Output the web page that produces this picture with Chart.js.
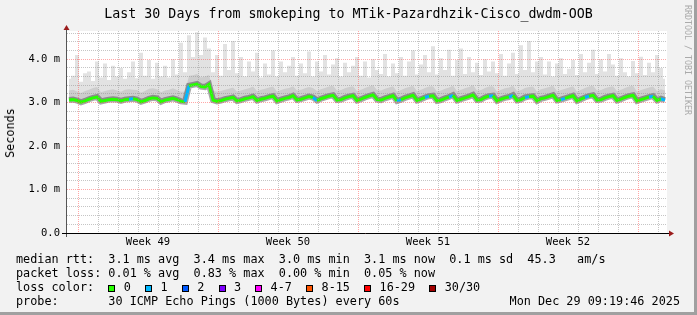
<!DOCTYPE html>
<html>
<head>
<meta charset="utf-8">
<script src="https://cdn.jsdelivr.net/npm/chart.js@4/dist/chart.umd.min.js"></script>
<style>
html, body { margin: 0; padding: 0; }
body { width: 697px; height: 315px; position: relative; overflow: hidden; background: #f2f2f2; font-family: 'DejaVu Sans Mono', monospace; color: #000; }
#c { position: absolute; left: 0; top: 0; }
.t { position: absolute; white-space: pre; }
#title { left: 0; top: 6px; width: 697px; text-align: center; font-size: 13.3px; line-height: 16px; }
#ylab { left: 10px; top: 133px; font-size: 11.8px; transform: translate(-50%, -50%) rotate(-90deg); }
#mark { left: 688px; top: 60px; font-size: 8.3px; color: #aaa; transform: translate(-50%, -50%) rotate(90deg); }
#legend { left: 16px; top: 252px; font-size: 11.8px; line-height: 14px; }
#date { right: 17px; top: 294px; font-size: 11.8px; line-height: 14px; }
.b { display: inline-block; width: 7px; height: 7px; box-sizing: border-box; border: 1px solid #000; margin-right: calc(1ch - 5.8px); vertical-align: -0.5px; }
#edgeR { position: absolute; left: 694px; top: 0; width: 3px; height: 315px; background: #a0a0a0; }
#edgeB { position: absolute; left: 0; top: 312px; width: 697px; height: 3px; background: #a0a0a0; }
</style>
</head>
<body>
<canvas id="c" width="697" height="315"></canvas>
<div class="t" id="title">Last 30 Days from smokeping to MTik-Pazardhzik-Cisco_dwdm-OOB</div>
<div class="t" id="ylab">Seconds</div>
<div class="t" id="mark">RRDTOOL / TOBI OETIKER</div>
<div class="t" id="legend"><div>median rtt:  3.1 ms avg  3.4 ms max  3.0 ms min  3.1 ms now  0.1 ms sd  45.3   am/s</div><div>packet loss: 0.01 % avg  0.83 % max  0.00 % min  0.05 % now</div><div id="lossrow">loss color:  </div><div>probe:       30 ICMP Echo Pings (1000 Bytes) every 60s</div></div>
<div class="t" id="date">Mon Dec 29 09:19:46 2025</div>
<div id="edgeR"></div>
<div id="edgeB"></div>
<script>
// median rtt (ms), one value every 4.8 hours over 30 days
const median = [
  3.06, 3.07, 3.05, 3.01, 3.04, 3.08, 3.11, 3.13, 3.03, 3.05,
  3.07, 3.08, 3.07, 3.04, 3.07, 3.08, 3.09, 3.07, 3.02, 3.05,
  3.09, 3.11, 3.10, 3.02, 3.06, 3.08, 3.10, 3.07, 3.03, 3.02,
  3.39, 3.41, 3.43, 3.37, 3.36, 3.42, 3.06, 3.03, 3.05, 3.08,
  3.10, 3.12, 3.04, 3.06, 3.09, 3.11, 3.14, 3.05, 3.08, 3.10,
  3.13, 3.15, 3.04, 3.07, 3.10, 3.12, 3.16, 3.06, 3.08, 3.11,
  3.14, 3.12, 3.05, 3.09, 3.12, 3.15, 3.17, 3.06, 3.07, 3.11,
  3.14, 3.16, 3.05, 3.08, 3.12, 3.15, 3.18, 3.07, 3.06, 3.10,
  3.13, 3.16, 3.04, 3.07, 3.11, 3.14, 3.17, 3.05, 3.08, 3.12,
  3.15, 3.16, 3.04, 3.06, 3.10, 3.13, 3.17, 3.05, 3.08, 3.11,
  3.14, 3.18, 3.06, 3.07, 3.12, 3.15, 3.16, 3.04, 3.08, 3.11,
  3.13, 3.17, 3.05, 3.07, 3.12, 3.14, 3.15, 3.04, 3.09, 3.11,
  3.14, 3.17, 3.05, 3.07, 3.10, 3.13, 3.16, 3.04, 3.08, 3.12,
  3.15, 3.17, 3.06, 3.07, 3.11, 3.14, 3.16, 3.05, 3.08, 3.12,
  3.15, 3.17, 3.04, 3.07, 3.10, 3.13, 3.15, 3.05, 3.09, 3.06
];

// upper edge of the dense part of the smoke
const smokeUpper = [
  3.28, 3.30, 3.26, 3.22, 3.27, 3.30, 3.34, 3.36, 3.24, 3.27,
  3.29, 3.31, 3.28, 3.25, 3.30, 3.31, 3.30, 3.29, 3.23, 3.27,
  3.32, 3.33, 3.31, 3.24, 3.28, 3.30, 3.33, 3.29, 3.25, 3.26,
  3.62, 3.63, 3.66, 3.58, 3.60, 3.64, 3.28, 3.25, 3.27, 3.30,
  3.32, 3.35, 3.26, 3.28, 3.31, 3.33, 3.37, 3.27, 3.30, 3.32,
  3.35, 3.37, 3.26, 3.29, 3.32, 3.34, 3.38, 3.28, 3.30, 3.33,
  3.36, 3.34, 3.27, 3.31, 3.34, 3.37, 3.39, 3.28, 3.29, 3.33,
  3.36, 3.38, 3.27, 3.30, 3.34, 3.37, 3.40, 3.29, 3.28, 3.32,
  3.35, 3.38, 3.26, 3.29, 3.33, 3.36, 3.39, 3.27, 3.30, 3.34,
  3.37, 3.38, 3.26, 3.28, 3.32, 3.35, 3.39, 3.27, 3.30, 3.33,
  3.36, 3.40, 3.28, 3.29, 3.34, 3.37, 3.38, 3.26, 3.30, 3.33,
  3.35, 3.39, 3.27, 3.29, 3.34, 3.36, 3.37, 3.26, 3.31, 3.33,
  3.36, 3.39, 3.27, 3.29, 3.32, 3.35, 3.38, 3.26, 3.30, 3.34,
  3.37, 3.39, 3.28, 3.29, 3.33, 3.36, 3.38, 3.27, 3.30, 3.34,
  3.37, 3.39, 3.26, 3.29, 3.32, 3.35, 3.37, 3.27, 3.31, 3.28
];

// slowest ping of each step (top of the light smoke)
const smokeMax = [
  3.55, 3.62, 4.10, 3.48, 3.68, 3.72, 3.50, 3.95, 3.58, 3.90,
  3.52, 3.85, 3.60, 3.80, 3.55, 3.70, 3.95, 3.56, 4.15, 3.62,
  3.98, 3.55, 3.92, 3.60, 3.85, 3.58, 4.00, 3.65, 4.38, 3.70,
  4.55, 4.05, 4.62, 4.10, 4.50, 4.25, 3.70, 4.10, 3.62, 4.35,
  3.75, 4.42, 3.68, 4.05, 3.60, 3.95, 3.72, 4.15, 3.58, 3.90,
  3.65, 4.20, 3.60, 3.95, 3.70, 3.85, 4.05, 3.62, 3.90, 3.68,
  4.18, 3.60, 3.95, 3.72, 4.10, 3.65, 3.88, 4.02, 3.60, 3.92,
  3.70, 3.85, 4.05, 3.62, 3.95, 3.58, 4.00, 3.75, 3.66, 4.12,
  3.60, 3.90, 3.68, 4.05, 3.62, 3.95, 4.20, 3.65, 3.88, 4.10,
  3.70, 4.30, 3.65, 4.02, 3.75, 4.22, 3.62, 3.98, 4.25, 3.66,
  4.05, 3.70, 3.92, 3.64, 4.00, 3.72, 3.95, 3.68, 4.12, 3.62,
  3.90, 4.15, 3.66, 4.32, 3.75, 4.42, 3.70, 3.95, 4.05, 3.65,
  3.95, 3.60, 3.90, 4.02, 3.66, 3.78, 3.98, 3.64, 4.12, 3.70,
  3.92, 4.22, 3.66, 4.00, 3.72, 4.12, 3.88, 3.62, 4.02, 3.70,
  3.60, 3.96, 3.68, 4.06, 3.64, 3.92, 3.70, 4.10, 3.80, 3.55
];

// steps where 1 of 30 pings was lost
const lossOne = [15, 29, 61, 82, 89, 95, 105, 110, 114, 123, 129, 145, 148];

const weekLabels = ['Week 49', 'Week 50', 'Week 51', 'Week 52'];
const yLabels = ['0.0', '1.0 m', '2.0 m', '3.0 m', '4.0 m'];
const lossNames = ['0', '1', '2', '3', '4-7', '8-15', '16-29', '30/30'];
const lossColors = ['#26ff00', '#00b8ff', '#0059ff', '#7e00ff', '#ff00ff', '#ff5500', '#ff0000', '#a10000'];

// legend colour boxes
const lossRow = document.getElementById('lossrow');
lossNames.forEach((n, i) => {
  const b = document.createElement('i');
  b.className = 'b';
  b.style.background = lossColors[i];
  lossRow.appendChild(b);
  lossRow.appendChild(document.createTextNode(' ' + n + (i < lossNames.length - 1 ? '  ' : '')));
});

const days = 30;
const stepDays = days / median.length;
const firstDayLine = 0.55; // first midnight after the start of the graph
const xy = arr => arr.map((v, i) => ({ x: (i + 0.5) * stepDays, y: v }));
const lossSet = new Set(lossOne);

const chartBg = {
  id: 'chartBg',
  beforeDraw(chart) {
    const { ctx, chartArea: a } = chart;
    ctx.save();
    ctx.fillStyle = '#fff';
    ctx.fillRect(a.left, a.top, a.right - a.left, a.bottom - a.top);
    ctx.restore();
  }
};

const axesArrows = {
  id: 'axesArrows',
  afterDraw(chart) {
    const { ctx, chartArea: a } = chart;
    ctx.save();
    ctx.lineWidth = 1;
    ctx.strokeStyle = '#555';
    ctx.beginPath();
    ctx.moveTo(a.left - 0.5, a.bottom + 4);
    ctx.lineTo(a.left - 0.5, a.top - 2);
    ctx.stroke();
    ctx.strokeStyle = '#000';
    ctx.beginPath();
    ctx.moveTo(a.left - 5, a.bottom + 0.5);
    ctx.lineTo(a.right + 2, a.bottom + 0.5);
    ctx.stroke();
    ctx.fillStyle = '#9b1c1c';
    ctx.beginPath();
    ctx.moveTo(a.left - 0.5, a.top - 6);
    ctx.lineTo(a.left - 3.5, a.top - 1);
    ctx.lineTo(a.left + 2.5, a.top - 1);
    ctx.closePath();
    ctx.fill();
    ctx.beginPath();
    ctx.moveTo(a.right + 7, a.bottom + 0.5);
    ctx.lineTo(a.right + 2, a.bottom - 2.5);
    ctx.lineTo(a.right + 2, a.bottom + 3.5);
    ctx.closePath();
    ctx.fill();
    ctx.restore();
  }
};

const minorGrid = 'rgba(150,150,150,0.55)';
const majorGrid = 'rgba(255,80,80,0.5)';
const axisFont = { family: 'DejaVu Sans Mono', size: 10.5 };

new Chart(document.getElementById('c'), {
  type: 'line',
  data: {
    datasets: [
      {
        label: 'median',
        data: xy(median),
        borderColor: lossColors[0],
        borderWidth: 3,
        pointRadius: 0,
        fill: false,
        segment: { borderColor: ctx => lossSet.has(ctx.p0DataIndex) ? lossColors[1] : undefined }
      },
      {
        label: 'smoke core',
        data: xy(median),
        borderColor: 'rgba(60,60,60,0.45)',
        borderWidth: 6,
        pointRadius: 0,
        fill: false
      },
      {
        label: 'smoke upper',
        data: xy(smokeUpper),
        borderWidth: 0,
        borderColor: 'rgba(0,0,0,0)',
        backgroundColor: '#cdcdcd',
        pointRadius: 0,
        fill: 0
      },
      {
        label: 'smoke max',
        data: xy(smokeMax),
        stepped: 'middle',
        borderWidth: 0,
        borderColor: 'rgba(0,0,0,0)',
        backgroundColor: '#e2e2e2',
        pointRadius: 0,
        fill: 0
      }
    ]
  },
  options: {
    responsive: false,
    animation: false,
    devicePixelRatio: 1,
    layout: { padding: { top: 31, right: 30, left: 0, bottom: 0 } },
    plugins: { legend: { display: false }, tooltip: { enabled: false } },
    scales: {
      x: {
        type: 'linear',
        min: 0,
        max: days,
        afterFit: s => { s.height = 82; },
        afterBuildTicks: s => {
          const t = [];
          for (let d = 0; d < days; d++) t.push({ value: firstDayLine + d, big: d % 7 === 0 });
          weekLabels.forEach((w, k) => t.push({ value: firstDayLine + 3.5 + 7 * k, wk: w }));
          t.sort((p, q) => p.value - q.value);
          s.ticks = t;
        },
        ticks: {
          autoSkip: false,
          maxRotation: 0,
          minRotation: 0,
          padding: 3,
          color: '#000',
          font: axisFont,
          callback: (v, i, ticks) => ticks[i].wk || ''
        },
        grid: {
          z: 1,
          drawTicks: false,
          lineWidth: 1,
          color: ctx => ctx.tick && ctx.tick.wk ? 'rgba(0,0,0,0)' : (ctx.tick && ctx.tick.big ? majorGrid : minorGrid)
        },
        border: { display: false, dash: [1, 1] }
      },
      y: {
        min: 0,
        max: 4.65,
        afterFit: s => { s.width = 67; },
        afterBuildTicks: s => {
          const t = [];
          for (let k = 0; k <= 23; k++) t.push({ value: k / 5, big: k % 5 === 0 });
          s.ticks = t;
        },
        ticks: {
          autoSkip: false,
          padding: 7,
          color: '#000',
          font: axisFont,
          callback: (v, i, ticks) => ticks[i].big ? yLabels[Math.round(v)] : ''
        },
        grid: {
          z: 1,
          drawTicks: false,
          lineWidth: 1,
          color: ctx => ctx.tick && ctx.tick.big ? majorGrid : minorGrid
        },
        border: { display: false, dash: [1, 1] }
      }
    }
  },
  plugins: [chartBg, axesArrows]
});
</script>
</body>
</html>
